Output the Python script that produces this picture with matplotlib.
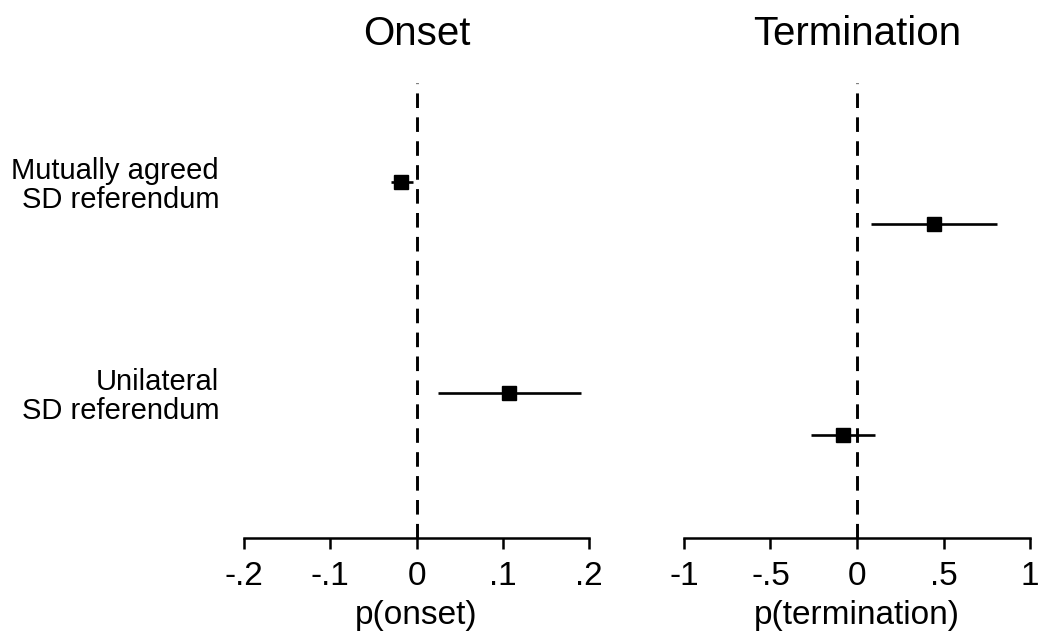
import numpy as np
import matplotlib
matplotlib.use("Agg")
import matplotlib.pyplot as plt

plt.rcParams['font.family'] = ['Liberation Sans', 'DejaVu Sans']

# categories (top to bottom)
labels = ['Mutually agreed\nSD referendum', 'Unilateral\nSD referendum']
cat_pos = [1, 2]

# onset estimates
onset_b = [-0.018, 0.1075]
onset_lo = [-0.030, 0.025]
onset_hi = [-0.004, 0.191]

# termination estimates
term_b = [0.443, -0.083]
term_lo = [0.079, -0.268]
term_hi = [0.809, 0.104]
term_offset = 0.2

onset_ticks = [-0.2, -0.1, 0, 0.1, 0.2]
onset_ticklabels = ['-.2', '-.1', '0', '.1', '.2']
term_ticks = [-1, -0.5, 0, 0.5, 1]
term_ticklabels = ['-1', '-.5', '0', '.5', '1']

fig = plt.figure(figsize=(10.42, 6.31), dpi=100)
ax1 = fig.add_axes([0.2342, 0.1474, 0.3311, 0.7211])
ax2 = fig.add_axes([0.6564, 0.1474, 0.3321, 0.7211])


def panel(ax, b, lo, hi, off, ticks, ticklabels, xlim, title, xlabel, show_y):
    y = np.array(cat_pos) + off
    ax.axvline(0, color='black', lw=2.1, ls=(0, (5.0, 3.2)), zorder=1)
    ax.hlines(y, lo, hi, color='black', lw=1.9, zorder=2)
    ax.plot(b, y, 's', color='black', ms=10.5, zorder=3)
    ax.set_xlim(*xlim)
    ax.set_ylim(2.687, 0.531)
    for s in ['top', 'right', 'left']:
        ax.spines[s].set_visible(False)
    ax.spines['bottom'].set_linewidth(1.8)
    ax.set_xticks(ticks)
    ax.set_xticklabels(ticklabels)
    ax.tick_params(axis='x', length=8, width=1.8, labelsize=24, pad=8.5)
    ax.set_xlabel(xlabel, fontsize=24, labelpad=6)
    ax.set_title(title, fontsize=29, pad=27)
    if show_y:
        ax.set_yticks(cat_pos)
        ax.set_yticklabels(labels, fontsize=21, ha='right', linespacing=1.05)
        ax.tick_params(axis='y', length=0, pad=18)
    else:
        ax.set_yticks([])


panel(ax1, onset_b, onset_lo, onset_hi, 0, onset_ticks, onset_ticklabels,
      (-0.2, 0.2), 'Onset', 'p(onset)', True)
panel(ax2, term_b, term_lo, term_hi, term_offset, term_ticks, term_ticklabels,
      (-1, 1), 'Termination', 'p(termination)', False)

fig.savefig('out.png', dpi=100)
